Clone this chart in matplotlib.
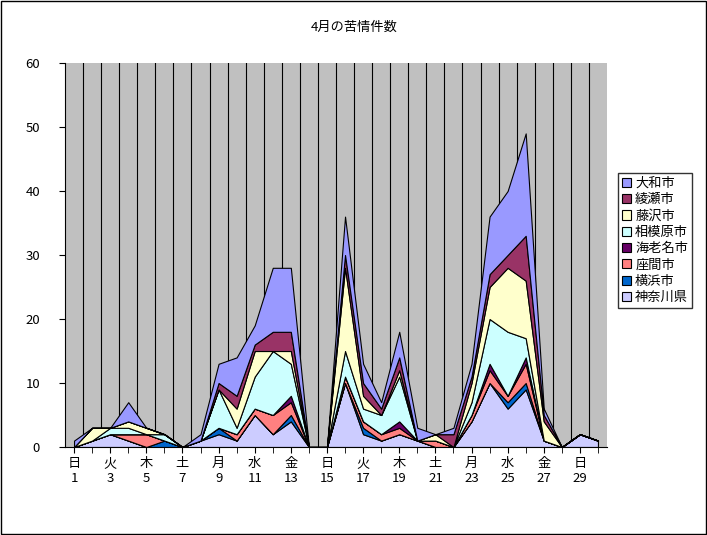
import numpy as np
import matplotlib.pyplot as plt

plt.rcParams['font.family'] = ['Noto Sans CJK JP', 'DejaVu Sans']

days = np.arange(1, 31)
kanagawa   = [0,1,2,1,0,0,0,1,2,1,5,2,4,0,0,10,2,1,2,1,0,0,4,10,6,9,1,0,2,1]
yokohama   = [0,0,0,0,0,1,0,0,1,0,0,0,1,0,0,0,1,0,0,0,0,0,0,0,1,1,0,0,0,0]
zama       = [0,0,0,1,2,0,0,0,0,1,1,3,2,0,0,1,1,1,1,0,1,0,1,2,1,3,0,0,0,0]
ebina      = [0,0,0,0,0,0,0,0,0,0,0,0,1,0,0,0,0,0,1,0,0,0,0,1,0,1,0,0,0,0]
sagamihara = [0,0,1,1,0,1,0,0,6,1,5,10,5,0,0,4,2,3,7,0,0,0,2,7,10,3,0,0,0,0]
fujisawa   = [0,2,0,1,1,0,0,0,0,3,4,0,2,0,0,13,2,0,1,0,1,0,3,5,10,9,3,0,0,0]
ayase      = [0,0,0,0,0,0,0,0,1,2,1,3,3,0,0,2,2,1,2,0,0,2,1,2,2,7,1,0,0,0]
yamato     = [1,0,0,3,0,0,0,1,3,6,3,10,10,0,0,6,3,1,4,2,0,1,2,9,10,16,1,0,0,0]

series = [kanagawa, yokohama, zama, ebina, sagamihara, fujisawa, ayase, yamato]
names = ['神奈川県', '横浜市', '座間市', '海老名市', '相模原市', '藤沢市', '綾瀬市', '大和市']
colors = ['#CCCCFF', '#0066CC', '#FF8080', '#660066', '#CCFFFF', '#FFFFCC', '#993366', '#9999FF']

wd = ['日', '月', '火', '水', '木', '金', '土']
tick_days = days[::2]
tick_labels = [wd[(d - 1) % 7] + '\n' + str(d) for d in tick_days]

fig = plt.figure(figsize=(7.07, 5.35), dpi=100)
fig.patches.append(plt.Rectangle((0.002, 0.002), 0.996, 0.996, transform=fig.transFigure,
                                 fill=False, edgecolor='black', linewidth=1))
ax = fig.add_axes([65/707, 1 - 447/535, 542/707, 384/535])
ax.set_facecolor('#C0C0C0')

polys = ax.stackplot(days, *series, colors=colors, labels=names,
                     edgecolor='black', linewidth=0.8)

for x in np.arange(1.5, 30.5, 1):
    ax.axvline(x, color='black', linewidth=0.8, zorder=0.5)

ax.set_xlim(0.5, 30.5)
ax.set_ylim(0, 60)
ax.set_yticks(range(0, 61, 10))
ax.set_xticks(days, minor=True)
ax.set_xticks(tick_days)
ax.set_xticklabels(tick_labels, fontsize=9.5)
ax.tick_params(axis='both', labelsize=9.5, direction='out', length=4)
ax.tick_params(axis='x', which='minor', direction='out', length=4)
ax.tick_params(axis='y', pad=14)
for s in ['top', 'right']:
    ax.spines[s].set_visible(False)

fig.text(354/707, 1 - 27/535, '4月の苦情件数', ha='center', va='center', fontsize=9.5)

h, l = ax.get_legend_handles_labels()
fig.legend(h[::-1], l[::-1], loc='upper left', bbox_to_anchor=(618/707, 1 - 173/535),
           frameon=True, fancybox=False, edgecolor='black', fontsize=9.5,
           handlelength=0.7, handleheight=0.7, handletextpad=0.3, borderpad=0.3,
           labelspacing=0.25, borderaxespad=0)

fig.savefig('out.png', dpi=100)
